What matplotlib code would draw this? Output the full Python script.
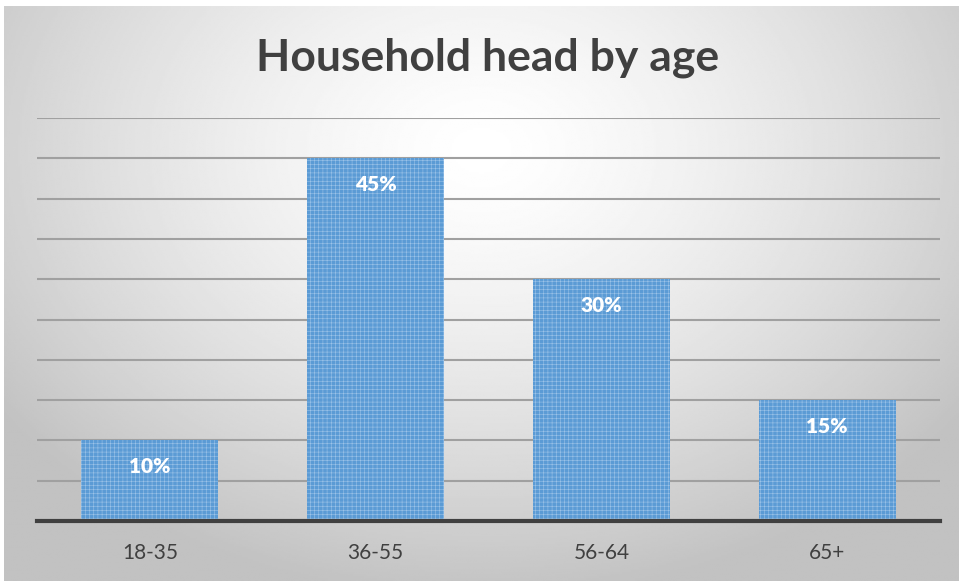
import matplotlib.pyplot as plt
import numpy as np

# data
categories = ['18-35', '36-55', '56-64', '65+']
share = [10, 45, 30, 15]
labels = ['10%', '45%', '30%', '15%']

W, H = 959, 581
fig = plt.figure(figsize=(W / 100, H / 100), dpi=100)
fig.patch.set_facecolor('white')

# gradient background panel
bg = fig.add_axes([4 / W, 0, 1 - 4 / W, 1 - 6 / H])
yy, xx = np.mgrid[0:300, 0:500]
xn = (xx / 499 - 0.5) * 2
yn = (yy / 299 - 0.25) * 1.6
r = np.sqrt(xn ** 2 + yn ** 2)
shade = 1 - 0.24 * np.clip(r / 1.25, 0, 1) ** 1.4
bg.imshow(shade, cmap='gray', vmin=0, vmax=1, aspect='auto', interpolation='bilinear')
bg.set_axis_off()

ax = fig.add_axes([37 / W, 1 - 521 / H, (940 - 37) / W, (521 - 118) / H])
ax.patch.set_alpha(0)

x = np.arange(len(categories))
plt.rcParams['hatch.color'] = '#9cc3e8'
plt.rcParams['hatch.linewidth'] = 0.4
bars = ax.bar(x, share, width=0.607, color='#5b9bd5', hatch='++++', edgecolor='#9cc3e8',
              linewidth=0, zorder=3)

for b, t in zip(bars, labels):
    ax.text(b.get_x() + b.get_width() / 2, b.get_height() - 3.3, t, ha='center', va='center',
            color='white', fontsize=15, fontweight='heavy', family='Lato', zorder=4)

ax.set_xlim(-0.5, len(categories) - 0.5)
ax.set_ylim(0, 50)
ax.set_yticks(np.arange(5, 51, 5))
ax.yaxis.grid(True, color='#a0a0a0', linewidth=1.5, zorder=1)
ax.tick_params(axis='y', left=False, labelleft=False)
ax.set_xticks(x)
ax.set_xticklabels(categories, fontsize=15, color='#404040', family='Lato')
ax.tick_params(axis='x', length=0, pad=16)
for s in ['top', 'right', 'left']:
    ax.spines[s].set_visible(False)
ax.spines['bottom'].set_color('#404040')
ax.spines['bottom'].set_linewidth(3)
ax.spines['bottom'].set_zorder(5)

fig.text(488 / W, 1 - 58 / H, 'Household head by age', ha='center', va='center',
         fontsize=32, fontweight='bold', color='#404040', family='Lato')

fig.savefig('out.png', dpi=100)
